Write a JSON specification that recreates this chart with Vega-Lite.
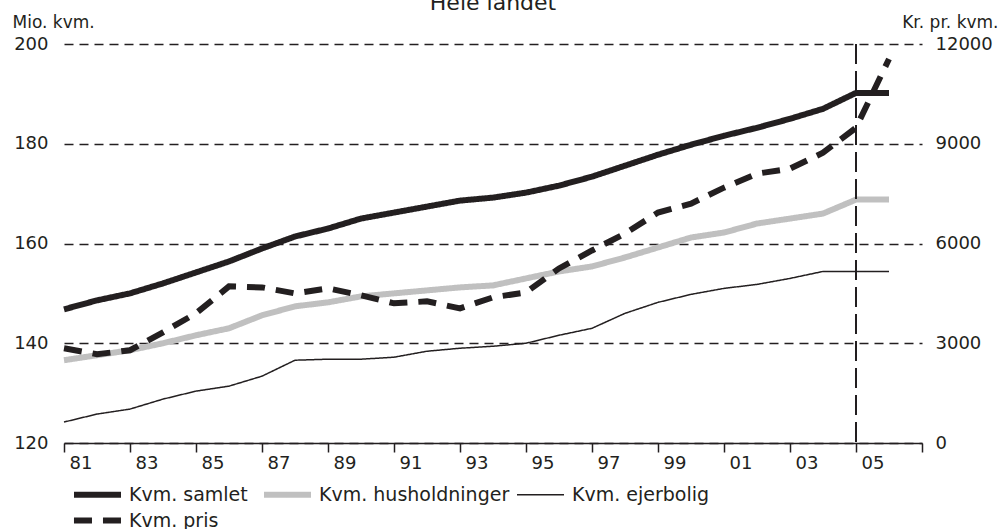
{
  "$schema": "https://vega.github.io/schema/vega-lite/v6.json",
  "width": 858,
  "height": 399,
  "autosize": {"type": "none"},
  "padding": {"left": 64, "top": 44, "right": 86, "bottom": 86},
  "background": "white",
  "title": {"text": "Hele landet", "fontSize": 22, "font": "DejaVu Sans", "fontWeight": "normal", "color": "#231f20", "anchor": "middle", "baseline": "alphabetic", "offset": 0, "dy": 19},
  "config": {
    "font": "DejaVu Sans",
    "view": {"stroke": null},
    "axis": {"labelFont": "DejaVu Sans", "titleFont": "DejaVu Sans", "labelColor": "#231f20", "titleColor": "#231f20"},
    "legend": {"labelFont": "DejaVu Sans", "title": null, "orient": "none", "legendX": 20, "legendY": 437, "direction": "horizontal", "columns": 3, "symbolType": "M-2.24,0H2.24", "symbolSize": 441, "labelFontSize": 19, "labelColor": "#231f20", "labelOffset": 18, "columnPadding": 3, "rowPadding": 0, "labelLimit": 400}
  },
  "data": {
    "values": [
      {"year": 1981, "series": "Kvm. samlet", "value": 146.8},
      {"year": 1982, "series": "Kvm. samlet", "value": 148.6},
      {"year": 1983, "series": "Kvm. samlet", "value": 150.0},
      {"year": 1984, "series": "Kvm. samlet", "value": 152.0},
      {"year": 1985, "series": "Kvm. samlet", "value": 154.2},
      {"year": 1986, "series": "Kvm. samlet", "value": 156.4},
      {"year": 1987, "series": "Kvm. samlet", "value": 159.0},
      {"year": 1988, "series": "Kvm. samlet", "value": 161.4},
      {"year": 1989, "series": "Kvm. samlet", "value": 163.0},
      {"year": 1990, "series": "Kvm. samlet", "value": 165.0},
      {"year": 1991, "series": "Kvm. samlet", "value": 166.2},
      {"year": 1992, "series": "Kvm. samlet", "value": 167.4},
      {"year": 1993, "series": "Kvm. samlet", "value": 168.6},
      {"year": 1994, "series": "Kvm. samlet", "value": 169.2},
      {"year": 1995, "series": "Kvm. samlet", "value": 170.2},
      {"year": 1996, "series": "Kvm. samlet", "value": 171.6},
      {"year": 1997, "series": "Kvm. samlet", "value": 173.4},
      {"year": 1998, "series": "Kvm. samlet", "value": 175.6},
      {"year": 1999, "series": "Kvm. samlet", "value": 177.8},
      {"year": 2000, "series": "Kvm. samlet", "value": 179.8},
      {"year": 2001, "series": "Kvm. samlet", "value": 181.6},
      {"year": 2002, "series": "Kvm. samlet", "value": 183.2},
      {"year": 2003, "series": "Kvm. samlet", "value": 185.0},
      {"year": 2004, "series": "Kvm. samlet", "value": 187.0},
      {"year": 2005, "series": "Kvm. samlet", "value": 190.2},
      {"year": 2006, "series": "Kvm. samlet", "value": 190.2},
      {"year": 1981, "series": "Kvm. husholdninger", "value": 136.6},
      {"year": 1982, "series": "Kvm. husholdninger", "value": 137.6},
      {"year": 1983, "series": "Kvm. husholdninger", "value": 138.6},
      {"year": 1984, "series": "Kvm. husholdninger", "value": 140.0},
      {"year": 1985, "series": "Kvm. husholdninger", "value": 141.6},
      {"year": 1986, "series": "Kvm. husholdninger", "value": 143.0},
      {"year": 1987, "series": "Kvm. husholdninger", "value": 145.6},
      {"year": 1988, "series": "Kvm. husholdninger", "value": 147.4},
      {"year": 1989, "series": "Kvm. husholdninger", "value": 148.2},
      {"year": 1990, "series": "Kvm. husholdninger", "value": 149.4},
      {"year": 1991, "series": "Kvm. husholdninger", "value": 150.0},
      {"year": 1992, "series": "Kvm. husholdninger", "value": 150.6},
      {"year": 1993, "series": "Kvm. husholdninger", "value": 151.2},
      {"year": 1994, "series": "Kvm. husholdninger", "value": 151.6},
      {"year": 1995, "series": "Kvm. husholdninger", "value": 153.0},
      {"year": 1996, "series": "Kvm. husholdninger", "value": 154.4},
      {"year": 1997, "series": "Kvm. husholdninger", "value": 155.4},
      {"year": 1998, "series": "Kvm. husholdninger", "value": 157.2},
      {"year": 1999, "series": "Kvm. husholdninger", "value": 159.2},
      {"year": 2000, "series": "Kvm. husholdninger", "value": 161.2},
      {"year": 2001, "series": "Kvm. husholdninger", "value": 162.2},
      {"year": 2002, "series": "Kvm. husholdninger", "value": 164.0},
      {"year": 2003, "series": "Kvm. husholdninger", "value": 165.0},
      {"year": 2004, "series": "Kvm. husholdninger", "value": 166.0},
      {"year": 2005, "series": "Kvm. husholdninger", "value": 168.8},
      {"year": 2006, "series": "Kvm. husholdninger", "value": 168.8},
      {"year": 1981, "series": "Kvm. ejerbolig", "value": 124.2},
      {"year": 1982, "series": "Kvm. ejerbolig", "value": 125.8},
      {"year": 1983, "series": "Kvm. ejerbolig", "value": 126.8},
      {"year": 1984, "series": "Kvm. ejerbolig", "value": 128.8},
      {"year": 1985, "series": "Kvm. ejerbolig", "value": 130.4},
      {"year": 1986, "series": "Kvm. ejerbolig", "value": 131.4},
      {"year": 1987, "series": "Kvm. ejerbolig", "value": 133.4},
      {"year": 1988, "series": "Kvm. ejerbolig", "value": 136.6},
      {"year": 1989, "series": "Kvm. ejerbolig", "value": 136.8},
      {"year": 1990, "series": "Kvm. ejerbolig", "value": 136.8},
      {"year": 1991, "series": "Kvm. ejerbolig", "value": 137.2},
      {"year": 1992, "series": "Kvm. ejerbolig", "value": 138.4},
      {"year": 1993, "series": "Kvm. ejerbolig", "value": 139.0},
      {"year": 1994, "series": "Kvm. ejerbolig", "value": 139.4},
      {"year": 1995, "series": "Kvm. ejerbolig", "value": 140.0},
      {"year": 1996, "series": "Kvm. ejerbolig", "value": 141.6},
      {"year": 1997, "series": "Kvm. ejerbolig", "value": 143.0},
      {"year": 1998, "series": "Kvm. ejerbolig", "value": 146.0},
      {"year": 1999, "series": "Kvm. ejerbolig", "value": 148.2},
      {"year": 2000, "series": "Kvm. ejerbolig", "value": 149.8},
      {"year": 2001, "series": "Kvm. ejerbolig", "value": 151.0},
      {"year": 2002, "series": "Kvm. ejerbolig", "value": 151.8},
      {"year": 2003, "series": "Kvm. ejerbolig", "value": 153.0},
      {"year": 2004, "series": "Kvm. ejerbolig", "value": 154.4},
      {"year": 2005, "series": "Kvm. ejerbolig", "value": 154.4},
      {"year": 2006, "series": "Kvm. ejerbolig", "value": 154.4},
      {"year": 1981, "series": "Kvm. pris", "value": 2850},
      {"year": 1982, "series": "Kvm. pris", "value": 2670},
      {"year": 1983, "series": "Kvm. pris", "value": 2790},
      {"year": 1984, "series": "Kvm. pris", "value": 3330},
      {"year": 1985, "series": "Kvm. pris", "value": 3900},
      {"year": 1986, "series": "Kvm. pris", "value": 4710},
      {"year": 1987, "series": "Kvm. pris", "value": 4680},
      {"year": 1988, "series": "Kvm. pris", "value": 4500},
      {"year": 1989, "series": "Kvm. pris", "value": 4650},
      {"year": 1990, "series": "Kvm. pris", "value": 4440},
      {"year": 1991, "series": "Kvm. pris", "value": 4200},
      {"year": 1992, "series": "Kvm. pris", "value": 4260},
      {"year": 1993, "series": "Kvm. pris", "value": 4050},
      {"year": 1994, "series": "Kvm. pris", "value": 4380},
      {"year": 1995, "series": "Kvm. pris", "value": 4530},
      {"year": 1996, "series": "Kvm. pris", "value": 5250},
      {"year": 1997, "series": "Kvm. pris", "value": 5790},
      {"year": 1998, "series": "Kvm. pris", "value": 6300},
      {"year": 1999, "series": "Kvm. pris", "value": 6930},
      {"year": 2000, "series": "Kvm. pris", "value": 7200},
      {"year": 2001, "series": "Kvm. pris", "value": 7680},
      {"year": 2002, "series": "Kvm. pris", "value": 8100},
      {"year": 2003, "series": "Kvm. pris", "value": 8250},
      {"year": 2004, "series": "Kvm. pris", "value": 8730},
      {"year": 2005, "series": "Kvm. pris", "value": 9480},
      {"year": 2006, "series": "Kvm. pris", "value": 11550}
    ]
  },
  "layer": [
    {
      "transform": [{"filter": "datum.series != 'Kvm. pris'"}],
      "mark": {"type": "line", "strokeCap": "butt"},
      "encoding": {
        "x": {
          "field": "year", "type": "quantitative",
          "scale": {"domain": [1981, 2007], "nice": false, "zero": false},
          "axis": {
            "values": [1981,1982,1983,1984,1985,1986,1987,1988,1989,1990,1991,1992,1993,1994,1995,1996,1997,1998,1999,2000,2001,2002,2003,2004,2005,2006,2007],
            "labelExpr": "(datum.value % 2 == 1 && datum.value <= 2005) ? slice('0' + (datum.value % 100), -2) : ''",
            "labelOffset": 16.5,
            "labelFlush": false,
            "labelOverlap": false,
            "labelFontSize": 18,
            "labelPadding": 2,
            "tickSize": 9,
            "tickWidth": 1.5,
            "tickColor": "#231f20",
            "domainColor": "#231f20",
            "domainWidth": 1.5,
            "grid": false,
            "title": null
          }
        },
        "y": {
          "field": "value", "type": "quantitative",
          "scale": {"domain": [120, 200], "nice": false, "zero": false},
          "axis": {
            "values": [120, 140, 160, 180, 200],
            "grid": true,
            "gridDash": [9, 6],
            "gridColor": "#231f20",
            "gridWidth": 1.5,
            "gridOpacity": 1,
            "domain": false,
            "ticks": false,
            "labelPadding": 16,
            "labelFontSize": 18,
            "title": "Mio. kvm.",
            "titleAngle": 0,
            "titleX": -52,
            "titleY": -17,
            "titleAlign": "left",
            "titleBaseline": "alphabetic",
            "titleFontSize": 17,
            "titleFontWeight": "normal"
          }
        },
        "color": {
          "field": "series", "type": "nominal",
          "scale": {"domain": ["Kvm. samlet", "Kvm. husholdninger", "Kvm. ejerbolig", "Kvm. pris"], "range": ["#231f20", "#c0c0c0", "#231f20", "#231f20"]},
          "legend": {"values": ["Kvm. samlet", "Kvm. husholdninger", "Kvm. ejerbolig", "Kvm. pris"]}
        },
        "strokeWidth": {
          "field": "series", "type": "nominal",
          "scale": {"type": "ordinal", "domain": ["Kvm. samlet", "Kvm. husholdninger", "Kvm. ejerbolig", "Kvm. pris"], "range": [6, 6, 1.5, 6]},
          "legend": {"values": ["Kvm. samlet", "Kvm. husholdninger", "Kvm. ejerbolig", "Kvm. pris"]}
        },
        "strokeDash": {
          "field": "series", "type": "nominal",
          "scale": {"domain": ["Kvm. samlet", "Kvm. husholdninger", "Kvm. ejerbolig", "Kvm. pris"], "range": [[1, 0], [1, 0], [1, 0], [18, 11]]},
          "legend": {"values": ["Kvm. samlet", "Kvm. husholdninger", "Kvm. ejerbolig", "Kvm. pris"]}
        }
      }
    },
    {
      "transform": [{"filter": "datum.series == 'Kvm. pris'"}],
      "mark": {"type": "line", "strokeCap": "butt"},
      "encoding": {
        "x": {"field": "year", "type": "quantitative"},
        "y": {
          "field": "value", "type": "quantitative",
          "scale": {"domain": [0, 12000], "nice": false},
          "axis": {
            "orient": "right",
            "values": [0, 3000, 6000, 9000, 12000],
            "format": "d",
            "grid": false,
            "domain": false,
            "ticks": false,
            "labelPadding": 13,
            "labelFontSize": 18,
            "title": "Kr. pr. kvm.",
            "titleAngle": 0,
            "titleX": 76,
            "titleY": -17,
            "titleAlign": "right",
            "titleBaseline": "alphabetic",
            "titleFontSize": 17,
            "titleFontWeight": "normal"
          }
        },
        "color": {
          "field": "series", "type": "nominal",
          "scale": {"domain": ["Kvm. samlet", "Kvm. husholdninger", "Kvm. ejerbolig", "Kvm. pris"], "range": ["#231f20", "#c0c0c0", "#231f20", "#231f20"]},
          "legend": {"values": ["Kvm. samlet", "Kvm. husholdninger", "Kvm. ejerbolig", "Kvm. pris"]}
        },
        "strokeWidth": {
          "field": "series", "type": "nominal",
          "scale": {"type": "ordinal", "domain": ["Kvm. samlet", "Kvm. husholdninger", "Kvm. ejerbolig", "Kvm. pris"], "range": [6, 6, 1.5, 6]},
          "legend": {"values": ["Kvm. samlet", "Kvm. husholdninger", "Kvm. ejerbolig", "Kvm. pris"]}
        },
        "strokeDash": {
          "field": "series", "type": "nominal",
          "scale": {"domain": ["Kvm. samlet", "Kvm. husholdninger", "Kvm. ejerbolig", "Kvm. pris"], "range": [[1, 0], [1, 0], [1, 0], [18, 11]]},
          "legend": {"values": ["Kvm. samlet", "Kvm. husholdninger", "Kvm. ejerbolig", "Kvm. pris"]}
        }
      }
    },
    {
      "mark": {"type": "rule", "strokeDash": [20, 7], "strokeWidth": 1.5, "color": "#231f20"},
      "encoding": {"x": {"datum": 2005, "type": "quantitative"}}
    }
  ],
  "resolve": {"scale": {"y": "independent"}}
}
